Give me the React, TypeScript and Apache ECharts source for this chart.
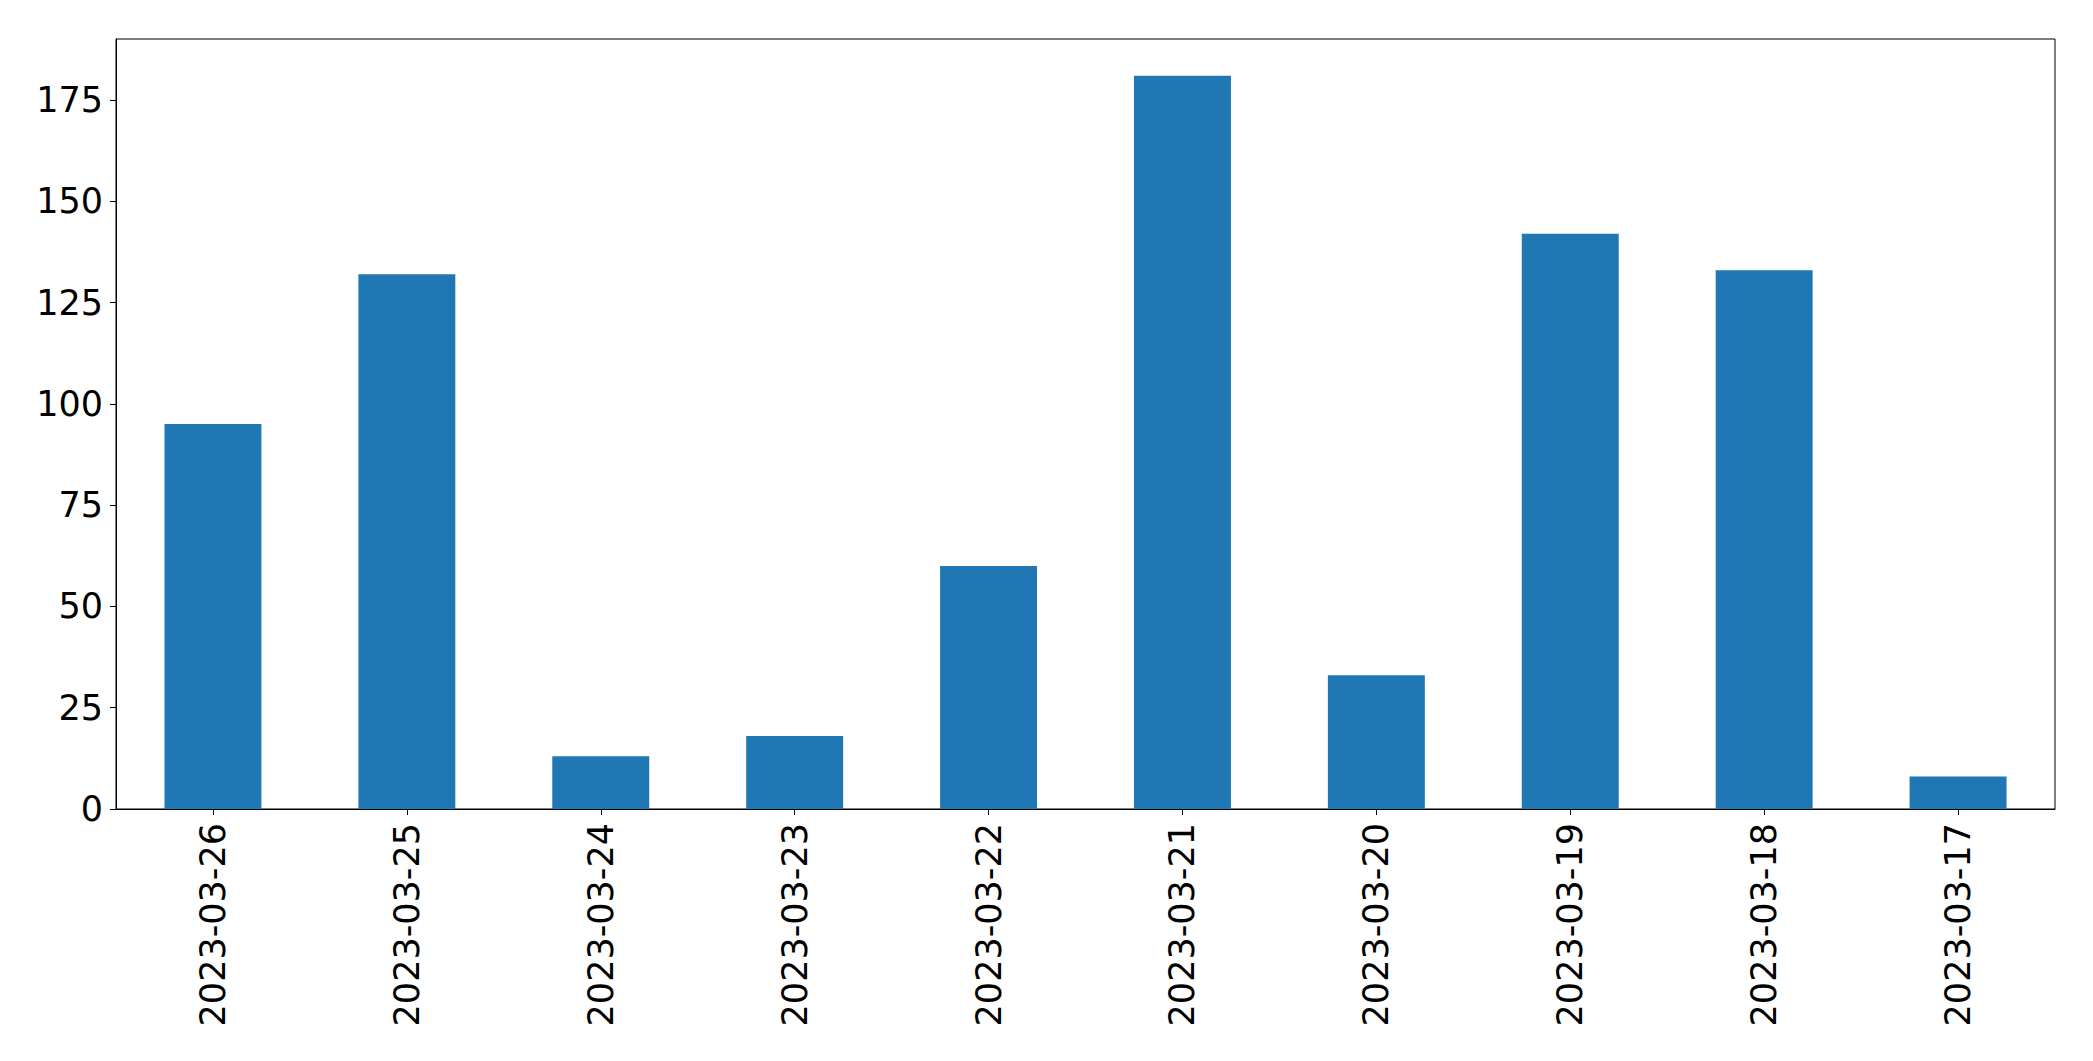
import React, { useEffect, useRef } from "react";
import * as echarts from "echarts";

const categories = [
  "2023-03-26",
  "2023-03-25",
  "2023-03-24",
  "2023-03-23",
  "2023-03-22",
  "2023-03-21",
  "2023-03-20",
  "2023-03-19",
  "2023-03-18",
  "2023-03-17",
];
const counts = [95, 132, 13, 18, 60, 181, 33, 142, 133, 8];
const yMax = 190.05;
const yInterval = 25;

export default function App() {
  const ref = useRef<HTMLDivElement>(null);
  useEffect(() => {
    if (!ref.current) return;
    const chart = echarts.init(ref.current, null, { renderer: "svg" });
    const font = "DejaVu Sans";
    chart.setOption({
      animation: false,
      backgroundColor: "#ffffff",
      grid: {
        left: 116,
        top: 39,
        right: 38,
        bottom: 252,
        show: true,
        borderColor: "#000000",
        borderWidth: 1,
        backgroundColor: "transparent",
      },
      xAxis: {
        type: "category",
        data: categories,
        boundaryGap: true,
        axisLine: { show: true, lineStyle: { color: "#000000", width: 1 } },
        axisTick: { show: true, alignWithLabel: true, length: 6, lineStyle: { color: "#000000" } },
        axisLabel: {
          interval: 0,
          rotate: 90,
          margin: 14,
          color: "#000000",
          fontFamily: font,
          fontSize: 35,
        },
        splitLine: { show: false },
      },
      yAxis: {
        type: "value",
        min: 0,
        max: yMax,
        interval: yInterval,
        axisLine: { show: true, lineStyle: { color: "#000000", width: 1 } },
        axisTick: { show: true, length: 6, lineStyle: { color: "#000000" } },
        axisLabel: {
          showMaxLabel: false,
          margin: 13,
          color: "#000000",
          fontFamily: font,
          fontSize: 35,
          formatter: (v: number) => (v % yInterval === 0 ? String(v) : ""),
        },
        splitLine: { show: false },
      },
      series: [
        {
          type: "bar",
          data: counts,
          barWidth: "50%",
          itemStyle: { color: "#1f77b4" },
        },
      ],
    });
    return () => chart.dispose();
  }, []);
  return (
    <div
      ref={ref}
      style={{ position: "fixed", left: 0, top: 0, width: 2093, height: 1061 }}
    />
  );
}
